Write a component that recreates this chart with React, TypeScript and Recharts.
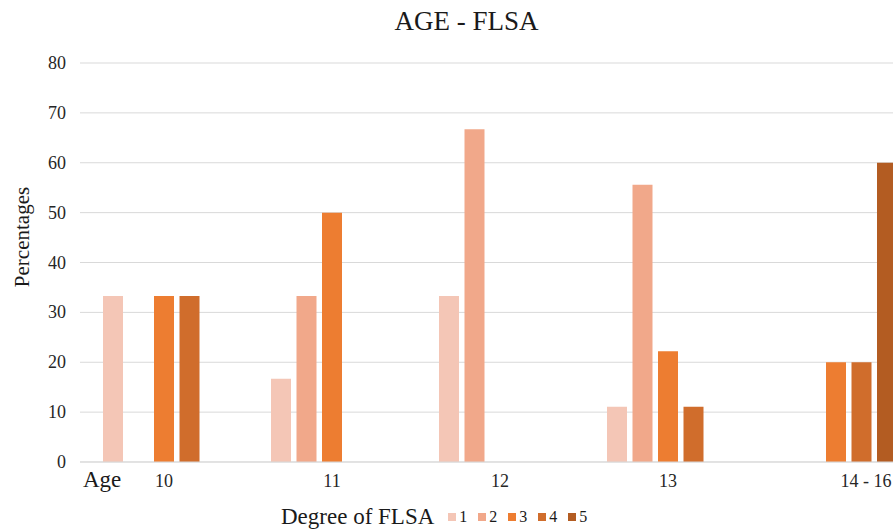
import React from 'react';
import { BarChart, Bar, XAxis, YAxis, CartesianGrid } from 'recharts';

// age groups along the x axis
const ages = ['10', '11', '12', '13', '14 - 16'];

// percentage per degree of FLSA, one array per degree
const degree1 = [33.3, 16.7, 33.3, 11.1, 0];
const degree2 = [0, 33.3, 66.7, 55.6, 0];
const degree3 = [33.3, 50, 0, 22.2, 20];
const degree4 = [33.3, 0, 0, 11.1, 20];
const degree5 = [0, 0, 0, 0, 60];

const yTicks = [0, 10, 20, 30, 40, 50, 60, 70, 80];

const degrees = [
  { key: 'd1', name: '1', color: '#F4C6B6' },
  { key: 'd2', name: '2', color: '#F1A88A' },
  { key: 'd3', name: '3', color: '#ED7D31' },
  { key: 'd4', name: '4', color: '#D06D2C' },
  { key: 'd5', name: '5', color: '#B35C22' },
];

const data = ages.map((age, i) => ({
  age,
  d1: degree1[i],
  d2: degree2[i],
  d3: degree3[i],
  d4: degree4[i],
  d5: degree5[i],
}));

const serif = '"Liberation Serif", "DejaVu Serif", serif';

const XTick = (props: any) => {
  const { x, y, payload, index } = props;
  // the last label sits right of its group in the original
  const dx = index === ages.length - 1 ? 30 : 0;
  return (
    <text x={x + dx} y={y + 17} textAnchor="middle" fontFamily="Liberation Serif" fontSize={18} fill="#262626">
      {payload.value}
    </text>
  );
};

const YTick = (props: any) => {
  const { y, payload } = props;
  return (
    <text x={66} y={y + 6} textAnchor="end" fontFamily="Liberation Serif" fontSize={18} fill="#262626">
      {payload.value}
    </text>
  );
};

const App: React.FC = () => {
  return (
    <div style={{ position: 'absolute', left: 0, top: 0, width: 893, height: 531, overflow: 'hidden', background: '#fff', fontFamily: serif, color: '#1a1a1a' }}>
      <div style={{ position: 'absolute', left: 0, top: 6, width: 933, textAlign: 'center', fontSize: 27 }}>
        AGE - FLSA
      </div>
      <div style={{ position: 'absolute', left: 83, top: 467, fontSize: 23 }}>
        Age
      </div>
      <div
        style={{
          position: 'absolute',
          left: 22,
          top: 237,
          fontSize: 21,
          transform: 'translate(-50%, -50%) rotate(-90deg)',
          whiteSpace: 'nowrap',
        }}
      >
        Percentages
      </div>
      <BarChart
        width={960}
        height={531}
        data={data}
        margin={{ top: 63, right: 40, bottom: 39, left: 0 }}
        barCategoryGap={23}
        barGap={5.5}
      >
        <CartesianGrid vertical={false} stroke="#d9d9d9" />
        <XAxis dataKey="age" height={30} stroke="#d9d9d9" tickLine={false} tick={<XTick />} />
        <YAxis width={80} domain={[0, 80]} ticks={yTicks} axisLine={false} tickLine={false} tick={<YTick />} />
        {degrees.map((d) => (
          <Bar key={d.key} dataKey={d.key} name={d.name} fill={d.color} barSize={20} isAnimationActive={false} />
        ))}
      </BarChart>
      <div style={{ position: 'absolute', left: 281, top: 504, display: 'flex', alignItems: 'center' }}>
        <span style={{ fontSize: 23, marginRight: 14 }}>Degree of FLSA</span>
        {degrees.map((d) => (
          <span key={d.key} style={{ display: 'flex', alignItems: 'center', width: 30, fontSize: 16 }}>
            <span style={{ width: 8, height: 8, background: d.color, marginRight: 3, display: 'inline-block' }} />
            {d.name}
          </span>
        ))}
      </div>
    </div>
  );
};

export default App;
